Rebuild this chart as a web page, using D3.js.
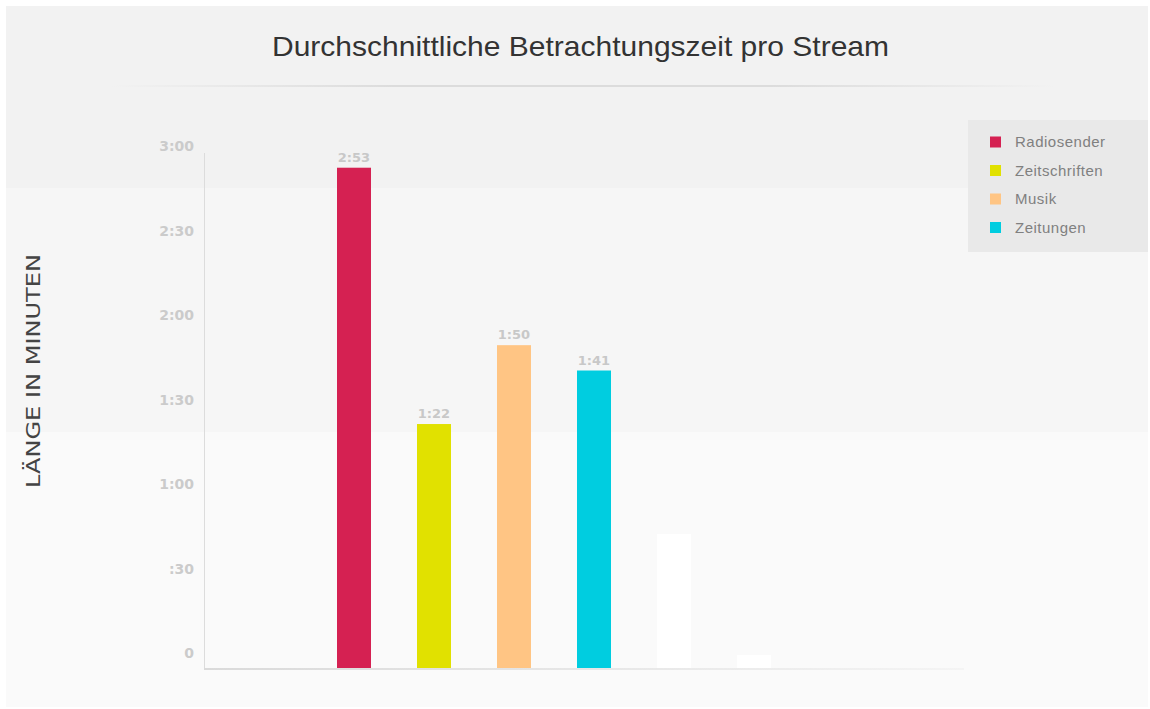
<!DOCTYPE html>
<html><head><meta charset="utf-8">
<script src="https://cdn.jsdelivr.net/npm/d3@7"></script>
<style>html,body{margin:0;padding:0;background:#fff;}svg{display:block;}</style>
</head><body>
<script>
const title = "Durchschnittliche Betrachtungszeit pro Stream";
const yTitle = "LÄNGE IN MINUTEN";
const categories = ["Radiosender", "Zeitschriften", "Musik", "Zeitungen"];
const valuesSec = [173, 82, 110, 101];           // 2:53, 1:22, 1:50, 1:41
const valueLabels = ["2:53", "1:22", "1:50", "1:41"];
const colors = ["#d52152", "#e1e100", "#ffc584", "#00cde0"];
const ghostValues = [43, 0];                      // faint white bars
const tickValues = [0, 30, 60, 90, 120, 150, 180];
const tickLabels = ["0", ":30", "1:00", "1:30", "2:00", "2:30", "3:00"];
const slots = d3.range(9);

const W = 1150, H = 709;
const svg = d3.select("body").append("svg").attr("width", W).attr("height", H);
const defs = svg.append("defs");

// background panel with bands
svg.append("rect").attr("x", 6).attr("y", 6).attr("width", 1142).attr("height", 701).attr("fill", "#fafafa");
svg.append("rect").attr("x", 6).attr("y", 6).attr("width", 1142).attr("height", 426).attr("fill", "#f6f6f6");
svg.append("rect").attr("x", 6).attr("y", 6).attr("width", 1142).attr("height", 182).attr("fill", "#f2f2f2");

// title
svg.append("text").attr("x", 580.5).attr("y", 56).attr("text-anchor", "middle")
  .attr("font-family", "Liberation Sans, Arial, sans-serif").attr("font-size", 28)
  .attr("textLength", 617).attr("lengthAdjust", "spacingAndGlyphs")
  .attr("fill", "#333").text(title);

// separator under title
const sg = defs.append("linearGradient").attr("id", "sep");
sg.append("stop").attr("offset", "0%").attr("stop-color", "#dcdcdc").attr("stop-opacity", 0);
sg.append("stop").attr("offset", "30%").attr("stop-color", "#dcdcdc").attr("stop-opacity", 1);
sg.append("stop").attr("offset", "70%").attr("stop-color", "#dcdcdc").attr("stop-opacity", 1);
sg.append("stop").attr("offset", "100%").attr("stop-color", "#dcdcdc").attr("stop-opacity", 0);
svg.append("rect").attr("x", 110).attr("y", 85).attr("width", 945).attr("height", 2).attr("fill", "url(#sep)");

// scales
const y = d3.scaleLinear().domain([0, 180]).range([655, 148]);
const x = d3.scalePoint().domain(slots).range([274, 914]);
const baseY = 668, barW = 34;

// y axis title
svg.append("text").attr("transform", "translate(40,371) rotate(-90)").attr("text-anchor", "middle")
  .attr("font-family", "DejaVu Sans, sans-serif").attr("font-size", 19).attr("font-weight", 500)
  .attr("textLength", 234).attr("lengthAdjust", "spacingAndGlyphs")
  .attr("fill", "#444").text(yTitle);

// y axis labels
const yAxis = d3.axisLeft(y).tickValues(tickValues).tickSize(0).tickPadding(0)
  .tickFormat((d, i) => tickLabels[i]);
const ga = svg.append("g").attr("transform", "translate(194,0)").call(yAxis);
ga.select(".domain").remove();
ga.selectAll("text").attr("font-family", "DejaVu Sans, sans-serif").attr("font-size", 14)
  .attr("font-weight", "bold").attr("fill", "#cbcbcb").attr("dy", "0.2em");

// axis lines
svg.append("line").attr("x1", 204.5).attr("x2", 204.5).attr("y1", 153).attr("y2", baseY + 1.5)
  .attr("stroke", "#dcdcdc").attr("stroke-width", 1);
const bg = defs.append("linearGradient").attr("id", "base");
bg.append("stop").attr("offset", "0%").attr("stop-color", "#dadada");
bg.append("stop").attr("offset", "80%").attr("stop-color", "#eeeeee");
bg.append("stop").attr("offset", "100%").attr("stop-color", "#f4f4f4");
svg.append("rect").attr("x", 204).attr("y", baseY).attr("width", 760).attr("height", 2).attr("fill", "url(#base)");

// ghost bars
svg.selectAll(".ghost").data(ghostValues).join("rect").attr("class", "ghost")
  .attr("x", (d, i) => x(5 + i) - barW / 2).attr("y", d => Math.min(y(d), baseY - 9))
  .attr("width", barW).attr("height", d => baseY - Math.min(y(d), baseY - 9)).attr("fill", "#ffffff");

// bars
svg.selectAll(".bar").data(valuesSec).join("rect").attr("class", "bar")
  .attr("x", (d, i) => x(1 + i) - barW / 2).attr("y", d => y(d))
  .attr("width", barW).attr("height", d => baseY - y(d)).attr("fill", (d, i) => colors[i]);

// value labels
svg.selectAll(".vl").data(valuesSec).join("text").attr("class", "vl")
  .attr("x", (d, i) => x(1 + i)).attr("y", d => y(d) - 6).attr("text-anchor", "middle")
  .attr("font-family", "DejaVu Sans, sans-serif").attr("font-size", 13).attr("font-weight", "bold")
  .attr("fill", "#c8c8c8").text((d, i) => valueLabels[i]);

// legend
svg.append("rect").attr("x", 968).attr("y", 120).attr("width", 180).attr("height", 132).attr("fill", "#e9e9e9");
const lg = svg.selectAll(".lg").data(categories).join("g").attr("class", "lg")
  .attr("transform", (d, i) => `translate(990,${142 + i * 28.5})`);
lg.append("rect").attr("x", 0).attr("y", -5.5).attr("width", 11).attr("height", 11).attr("fill", (d, i) => colors[i]);
lg.append("text").attr("x", 25).attr("y", 5).attr("font-family", "Liberation Sans, Arial, sans-serif")
  .attr("font-size", 15).attr("letter-spacing", 0.5).attr("fill", "#808080").text(d => d);
</script>
</body></html>
